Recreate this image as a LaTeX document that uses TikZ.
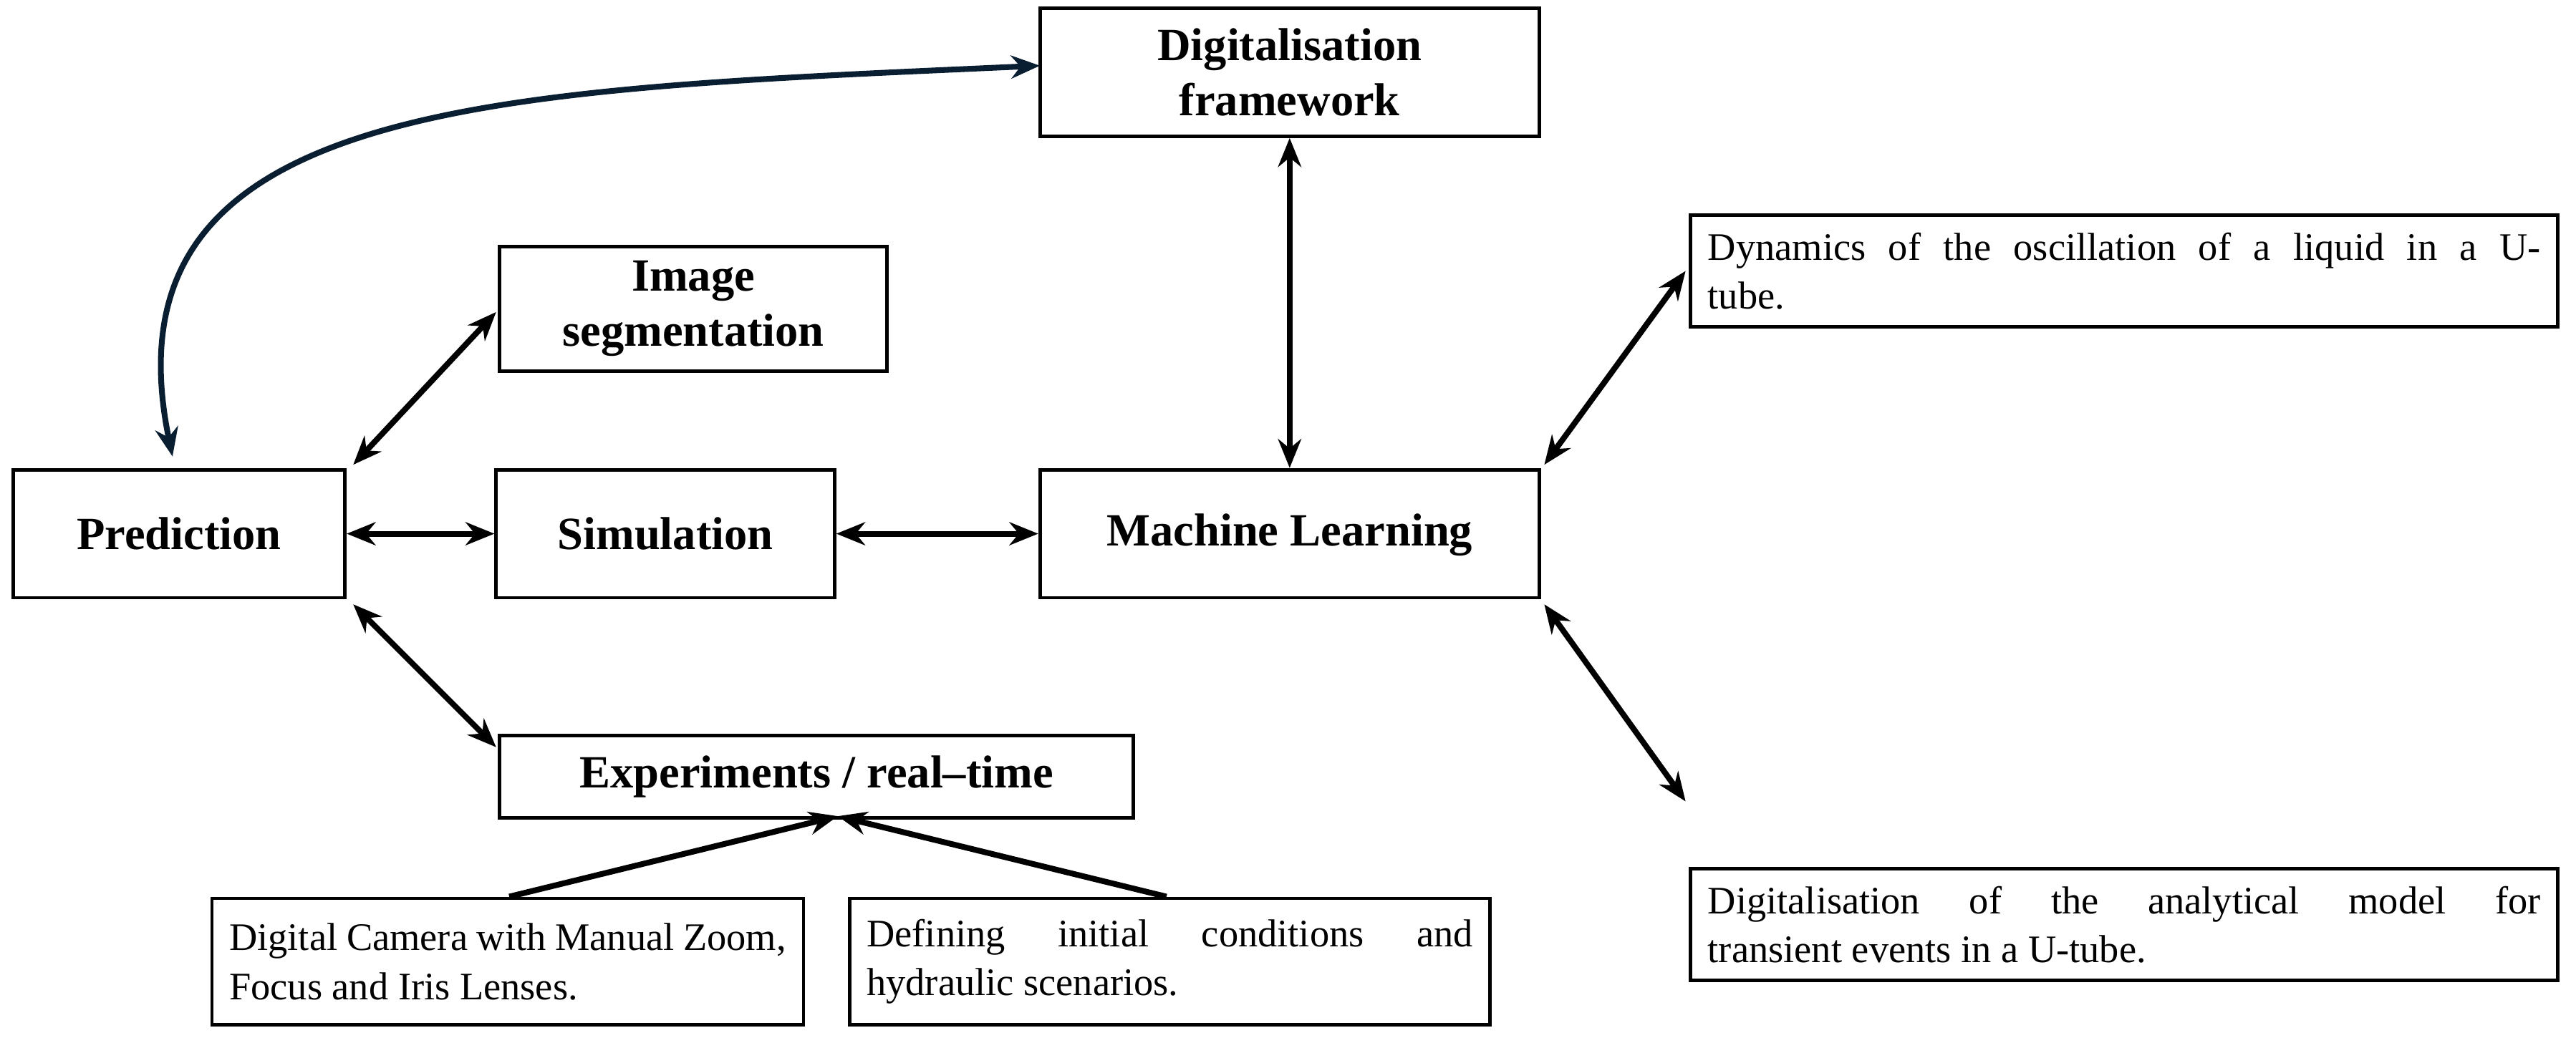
\documentclass[tikz,border=0pt]{standalone}
\usepackage{fontspec}
\setmainfont{Liberation Serif}
\usetikzlibrary{arrows.meta}
\begin{document}
\begin{tikzpicture}[x=0.02cm,y=-0.02cm,
 box/.style={draw,line width=1.2pt,inner sep=0pt,align=center,font=\fontsize{16}{19}\selectfont\bfseries},
 sbox/.style={draw,line width=1.2pt,inner sep=6pt,align=justify,font=\fontsize{13.5}{17}\selectfont,anchor=north west},
 dbl/.style={line width=2pt,{Stealth[length=10pt,width=8pt]}-{Stealth[length=10pt,width=8pt]}},
 one/.style={line width=2pt,-{Stealth[length=10pt,width=8pt]}}]
\useasboundingbox (0,0) rectangle (1568,635);
\node[box,minimum width=6.08cm,minimum height=1.56cm] (df) at (785,44) {Digitalisation\\framework};
\node[box,minimum width=4.72cm,minimum height=1.52cm] (is) at (422,188) {Image\\segmentation};
\node[box,minimum width=4.04cm,minimum height=1.56cm] (pr) at (109,325) {Prediction};
\node[box,minimum width=4.12cm,minimum height=1.56cm] (si) at (405,325) {Simulation};
\node[box,minimum width=6.08cm,minimum height=1.56cm,text depth=0.1cm] (ml) at (785,325) {Machine Learning};
\node[box,minimum width=7.72cm,minimum height=1.0cm] (ex) at (497,473) {Experiments / real–time};
\node[sbox,text width=6.78cm,minimum height=1.54cm] (ca) at (128,546) {Digital Camera with Manual Zoom, Focus and Iris Lenses.};
\node[sbox,text width=7.38cm,minimum height=1.54cm] (de) at (516,546) {Defining initial conditions and \mbox{hydraulic} scenarios.};
\node[sbox,text width=10.14cm,minimum height=1.34cm] (dy) at (1028,130) {Dynamics of the oscillation of a liquid in a U-\linebreak tube.};
\node[sbox,text width=10.14cm] (da) at (1028,528) {Digitalisation of the analytical model for\linebreak transient events in a U-tube.};
\coordinate (p1) at (215,283); \coordinate (i1) at (302,190);
\draw[dbl] (p1) -- (i1);
\draw[dbl] (pr.east) -- (si.west);
\draw[dbl] (si.east) -- (ml.west);
\coordinate (p2) at (215,368); \coordinate (e1) at (302,455);
\draw[dbl] (p2) -- (e1);
\draw[dbl] (df.south) -- (ml.north);
\coordinate (m1) at (940,283); \coordinate (d1) at (1026,165);
\draw[dbl] (m1) -- (d1);
\coordinate (m2) at (940,368); \coordinate (d2) at (1026,488);
\draw[dbl] (m2) -- (d2);
\coordinate (eb) at (510,497);
\coordinate (ct) at (310,546); \coordinate (dt) at (710,546);
\draw[one] (ct) -- (eb);
\draw[one] (dt) -- (eb);
\coordinate (cs) at (633,40); \coordinate (ce) at (105,278);
\draw[dbl,color={rgb,255:red,10;green,30;blue,50}] (cs) .. controls (300,55) and (60,60) .. (ce);
\end{tikzpicture}
\end{document}
